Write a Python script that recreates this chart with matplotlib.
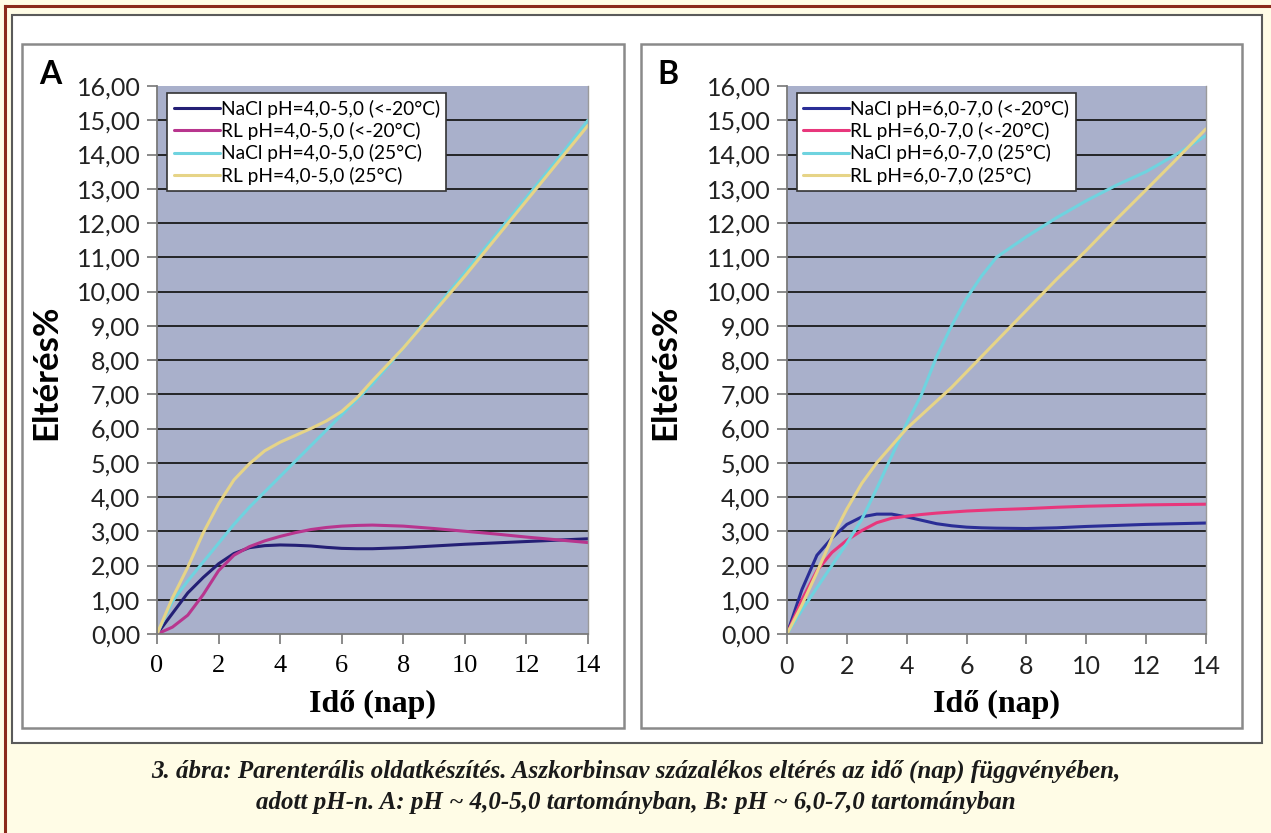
import matplotlib.pyplot as plt
from matplotlib.patches import Rectangle
from matplotlib.lines import Line2D

# --- adatok (leolvasva az ábráról) ---
napok_A = [0, 0.5, 1, 1.5, 2, 2.5, 3, 3.5, 4, 4.5, 5, 5.5, 6, 6.5, 7, 8, 9, 10, 11, 12, 13, 14]
nacl_fagy_A = [0, 0.6, 1.2, 1.65, 2.05, 2.35, 2.52, 2.58, 2.6, 2.59, 2.57, 2.53, 2.5, 2.49, 2.49, 2.52, 2.57, 2.62, 2.66, 2.7, 2.74, 2.78]
rl_fagy_A = [0, 0.2, 0.55, 1.15, 1.85, 2.3, 2.55, 2.72, 2.85, 2.96, 3.05, 3.11, 3.15, 3.17, 3.18, 3.15, 3.08, 3.0, 2.92, 2.83, 2.75, 2.67]
nacl_25_A = [0, 0.95, 1.55, 2.1, 2.65, 3.2, 3.7, 4.15, 4.6, 5.05, 5.5, 5.95, 6.4, 6.85, 7.3, 8.35, 9.45, 10.55, 11.65, 12.75, 13.85, 15.0]
rl_25_A = [0, 1.05, 1.95, 2.95, 3.8, 4.5, 4.97, 5.35, 5.6, 5.8, 6.0, 6.22, 6.5, 6.9, 7.4, 8.35, 9.4, 10.45, 11.55, 12.65, 13.75, 14.85]

napok_B = [0, 0.5, 1, 1.5, 2, 2.5, 3, 3.5, 4, 4.5, 5, 5.5, 6, 6.5, 7, 8, 9, 10, 11, 12, 13, 14]
nacl_fagy_B = [0, 1.3, 2.3, 2.8, 3.2, 3.42, 3.5, 3.5, 3.42, 3.32, 3.22, 3.16, 3.12, 3.1, 3.09, 3.08, 3.1, 3.14, 3.17, 3.2, 3.22, 3.24]
rl_fagy_B = [0, 1.0, 1.85, 2.38, 2.74, 3.02, 3.25, 3.38, 3.44, 3.49, 3.53, 3.56, 3.59, 3.61, 3.63, 3.66, 3.7, 3.73, 3.75, 3.77, 3.78, 3.79]
nacl_25_B = [0, 0.7, 1.35, 2.0, 2.65, 3.35, 4.25, 5.2, 6.15, 7.0, 8.1, 9.0, 9.8, 10.45, 11.0, 11.6, 12.15, 12.65, 13.1, 13.5, 14.0, 14.55]
rl_25_B = [0, 0.85, 1.8, 2.8, 3.65, 4.4, 5.0, 5.5, 6.0, 6.4, 6.8, 7.2, 7.65, 8.1, 8.55, 9.45, 10.35, 11.2, 12.1, 12.97, 13.85, 14.75]

cimkek_A = ["NaCl pH=4,0-5,0 (<-20°C)", "RL pH=4,0-5,0 (<-20°C)",
            "NaCl pH=4,0-5,0 (25°C)", "RL pH=4,0-5,0 (25°C)"]
cimkek_B = ["NaCl pH=6,0-7,0 (<-20°C)", "RL pH=6,0-7,0 (<-20°C)",
            "NaCl pH=6,0-7,0 (25°C)", "RL pH=6,0-7,0 (25°C)"]
y_ticks = list(range(0, 17))
x_ticks = list(range(0, 15, 2))

szinek_A = ["#241f75", "#b8358e", "#6fd3df", "#e6d487"]
szinek_B = ["#2a2d96", "#e8377c", "#6fd3df", "#e6d487"]

W, H = 1271, 833
fig = plt.figure(figsize=(W / 100, H / 100), dpi=100)
fig.patch.set_facecolor("#fffce6")


def px_rect(x0, y0, x1, y1, **kw):
    r = Rectangle((x0 / W, 1 - y1 / H), (x1 - x0) / W, (y1 - y0) / H,
                  transform=fig.transFigure, zorder=-5, **kw)
    fig.patches.append(r)


# keretek
fig.add_artist(Line2D([5 / W, 5 / W], [0, 1 - 6 / H], color="#8b2a1c", lw=2.2,
                      transform=fig.transFigure, zorder=-5))
fig.add_artist(Line2D([5 / W, 1], [1 - 6 / H, 1 - 6 / H], color="#8b2a1c", lw=2.2,
                      transform=fig.transFigure, zorder=-5))
px_rect(12, 15, 1262, 743, facecolor="white", edgecolor="#5a5a5a", lw=1.5)
px_rect(22, 44, 624, 728, facecolor="white", edgecolor="#8a8a8a", lw=1.8)
px_rect(641, 44, 1242, 728, facecolor="white", edgecolor="#8a8a8a", lw=1.8)


def panel(px, x, series, colors, labels, letter, serif_xticks):
    x0, x1 = px
    ax = fig.add_axes([x0 / W, 1 - 634 / H, (x1 - x0) / W, (634 - 86) / H])
    ax.set_facecolor("#a9b0cb")
    for y, c, lab in zip(series, colors, labels):
        ax.plot(x, y, color=c, lw=2.2, label=lab, solid_capstyle="round", solid_joinstyle="round")
    ax.set_xlim(0, 14)
    ax.set_ylim(0, 16)
    ax.set_yticks(y_ticks)
    ax.set_yticklabels([f"{v:.2f}".replace(".", ",") for v in y_ticks],
                       fontsize=18, family="Lato", color="#222222")
    ax.set_xticks(x_ticks)
    if serif_xticks:
        ax.set_xticklabels([str(v) for v in x_ticks], fontsize=19, family="Liberation Serif")
    else:
        ax.set_xticklabels([str(v) for v in x_ticks], fontsize=18, family="Lato", color="#222222")
    ax.tick_params(axis="both", direction="out", length=7, width=1.2, color="#777777")
    ax.tick_params(axis="y", pad=5)
    ax.tick_params(axis="x", pad=8)
    ax.yaxis.grid(True, color="#1a1a1a", lw=1.3)
    ax.set_axisbelow(True)
    ax.get_ygridlines()[-1].set_visible(False)
    ax.get_ygridlines()[0].set_visible(False)
    for s in ["left", "bottom"]:
        ax.spines[s].set_color("#7a7a7a")
        ax.spines[s].set_linewidth(1.3)
    ax.spines["right"].set_color("#9a9a9a")
    ax.spines["right"].set_linewidth(1.0)
    ax.spines["top"].set_visible(False)
    ax.set_xlabel("Idő (nap)", fontsize=23, fontweight="bold", family="Liberation Serif")
    ax.xaxis.set_label_coords(0.5, -(690 - 634) / (634 - 86))
    ax.set_ylabel("Eltérés%", fontsize=25, fontweight="bold", family="Lato")
    lab_right = 62 if letter == "A" else 681
    ax.yaxis.set_label_coords((lab_right - x0) / (x1 - x0), 1 - (372 - 86) / (634 - 86))
    leg = ax.legend(loc="upper left", bbox_to_anchor=(0.023, 0.987), fancybox=False,
                    framealpha=1, edgecolor="#333333", borderpad=0.35, labelspacing=0.22,
                    handlelength=2.4, handletextpad=0.05, borderaxespad=0,
                    prop={"family": "Lato", "size": 13.8})
    leg.get_frame().set_linewidth(1.2)
    lx = 50 if letter == "A" else 668
    fig.text(lx / W, 1 - 75 / H, letter, fontsize=23, fontweight="bold",
             family="Lato", va="center", ha="center")
    return ax


panel((157, 588), napok_A, [nacl_fagy_A, rl_fagy_A, nacl_25_A, rl_25_A],
      szinek_A, cimkek_A, "A", True)
panel((787, 1206), napok_B, [nacl_fagy_B, rl_fagy_B, nacl_25_B, rl_25_B],
      szinek_B, cimkek_B, "B", False)

fig.text(636 / W, 1 - 771 / H,
         "3. ábra: Parenterális oldatkészítés. Aszkorbinsav százalékos eltérés az idő (nap) függvényében,",
         ha="center", va="center", fontsize=18, fontweight="bold", style="italic",
         family="Liberation Serif", color="#1a1a1a")
fig.text(636 / W, 1 - 802 / H,
         "adott pH-n. A: pH ~ 4,0-5,0 tartományban, B: pH ~ 6,0-7,0 tartományban",
         ha="center", va="center", fontsize=18, fontweight="bold", style="italic",
         family="Liberation Serif", color="#1a1a1a")

fig.savefig("out.png", dpi=100, facecolor=fig.get_facecolor())
